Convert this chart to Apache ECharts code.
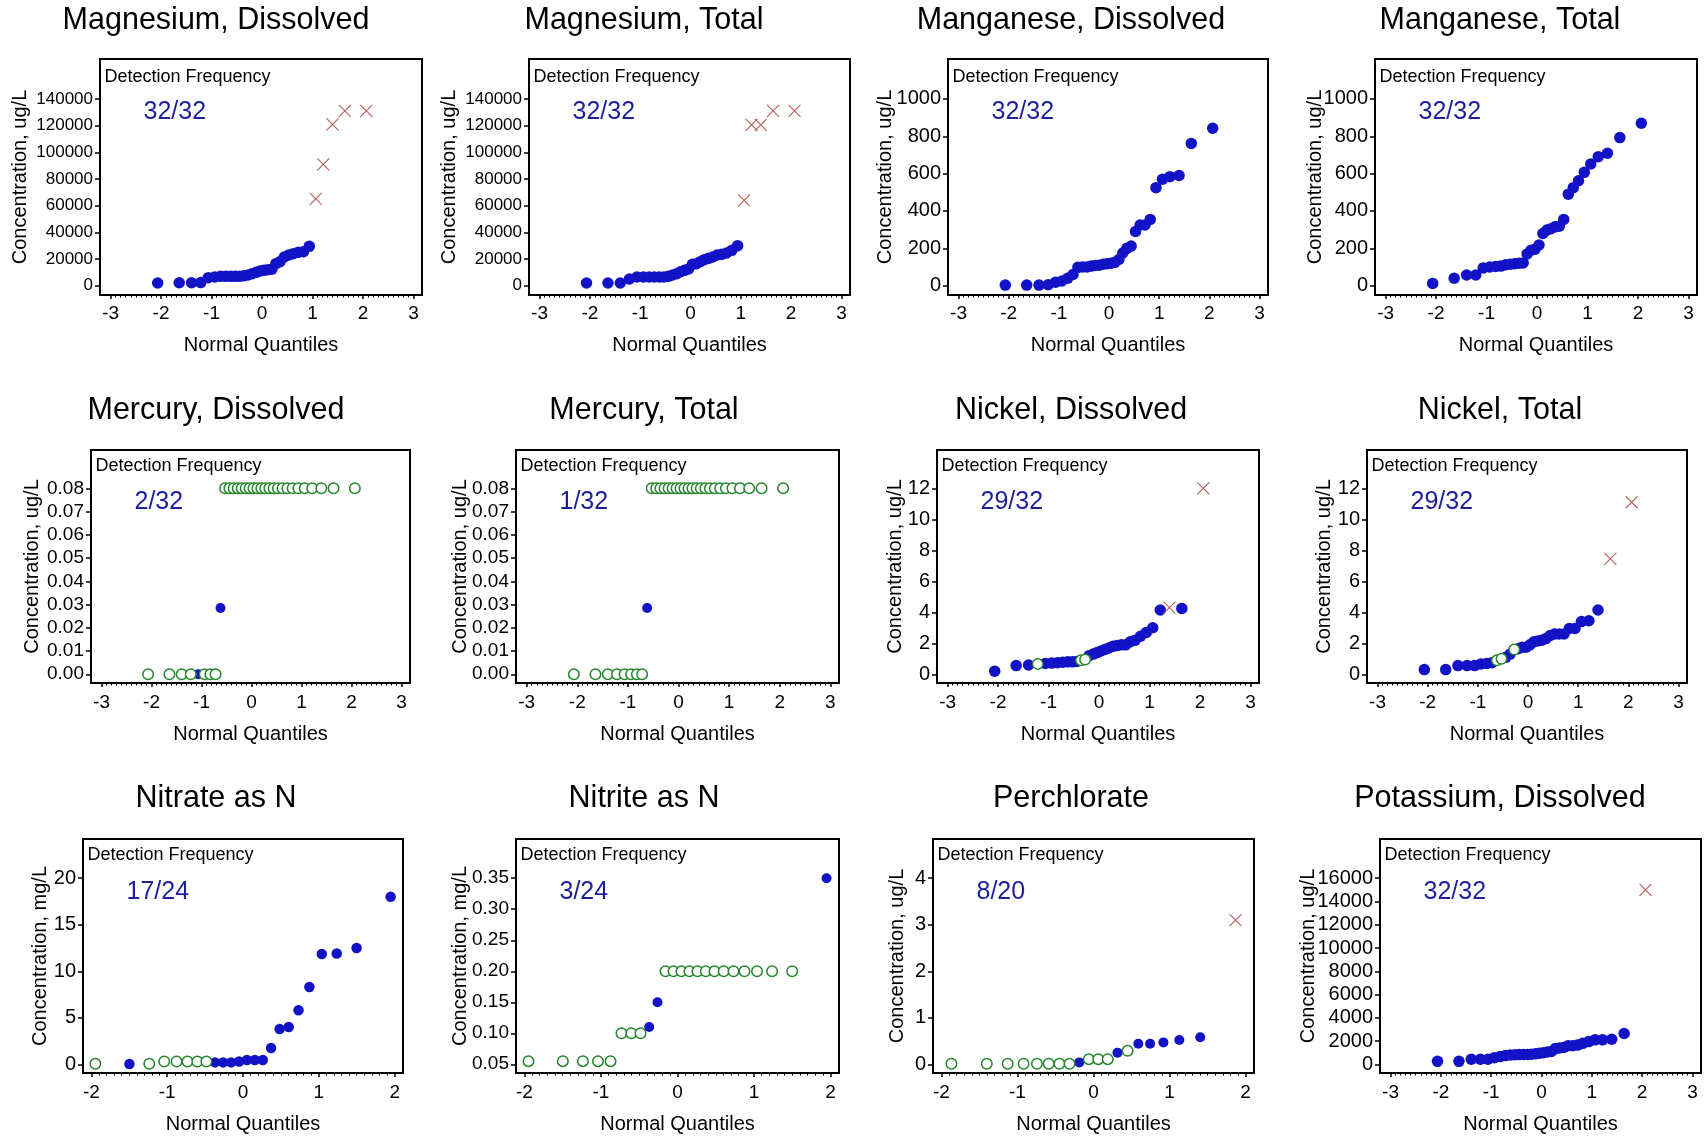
<!DOCTYPE html>
<html>
<head>
<meta charset="utf-8">
<script src="https://cdn.jsdelivr.net/npm/echarts@6/dist/echarts.min.js"></script>
<style>
html,body{margin:0;padding:0;background:#fff;}
#chart{width:1707px;height:1136px;}
</style>
</head>
<body>
<div id="chart"></div>
<script>
// ---- Normal quantile positions for sample sizes 32, 24 and 20 ----
const Q32 = [-2.067,-1.641,-1.396,-1.214,-1.065,-0.937,-0.822,-0.718,-0.620,-0.529,-0.441,-0.357,-0.275,-0.196,-0.117,-0.039,
              0.039,0.117,0.196,0.275,0.357,0.441,0.529,0.620,0.718,0.822,0.937,1.065,1.214,1.396,1.641,2.067];
const Q24 = [-1.947,-1.498,-1.236,-1.039,-0.875,-0.732,-0.603,-0.483,-0.370,-0.261,-0.156,-0.052,
              0.052,0.156,0.261,0.370,0.483,0.603,0.732,0.875,1.039,1.236,1.498,1.947];
const Q20 = [-1.868,-1.403,-1.128,-0.919,-0.744,-0.589,-0.448,-0.315,-0.187,-0.062,
              0.062,0.187,0.315,0.448,0.589,0.744,0.919,1.128,1.403,1.868];

// ---- Sorted concentrations; flags: D = detected, N = non-detect, X = flagged result ----
const mgDissolved = [2000,2200,2200,2300,6000,6500,7000,7000,7000,7000,7000,7500,8000,9000,10000,11000,
                     11500,12000,12300,16500,18000,21500,23000,24000,25000,25500,29500,65000,91000,121000,131000,131000];
const mgDissolvedFlags = 'DDDDDDDDDD' + 'DDDDDDDDDD' + 'DDDDDDD' + 'XXXXX';

const mgTotal = [2000,2000,2000,5000,6500,6500,6500,6500,6500,6500,7000,8000,9000,10500,11500,12500,
                 16000,16500,18000,19500,20500,21500,23000,23500,24500,26500,30000,64000,120500,120500,131000,131000];
const mgTotalFlags = 'DDDDDDDDDD' + 'DDDDDDDDDD' + 'DDDDDDD' + 'XXXXX';

const mnDissolved = [3,3,3,5,18,25,40,60,98,100,100,105,108,110,115,118,
                     120,125,140,175,200,212,290,325,325,355,525,570,584,590,762,843];
const mnDissolvedFlags = 'DDDDDDDDDD' + 'DDDDDDDDDD' + 'DDDDDDDDDD' + 'DD';

const mnTotal = [12,40,57,57,95,100,103,105,112,115,118,120,122,170,190,195,
                 218,280,298,305,315,318,355,490,525,562,607,652,691,709,793,870];
const mnTotalFlags = 'DDDDDDDDDD' + 'DDDDDDDDDD' + 'DDDDDDDDDD' + 'DD';

const hgDissolved = [0,0,0,0,0,0,0,0,0.0285,0.08,0.08,0.08,0.08,0.08,0.08,0.08,
                     0.08,0.08,0.08,0.08,0.08,0.08,0.08,0.08,0.08,0.08,0.08,0.08,0.08,0.08,0.08,0.08];
const hgDissolvedFlags = 'NNNNDNNND' + 'NNNNNNNNNN' + 'NNNNNNNNNN' + 'NNN';

const hgTotal = [0,0,0,0,0,0,0,0,0.0285,0.08,0.08,0.08,0.08,0.08,0.08,0.08,
                 0.08,0.08,0.08,0.08,0.08,0.08,0.08,0.08,0.08,0.08,0.08,0.08,0.08,0.08,0.08,0.08];
const hgTotalFlags = 'NNNNNNNND' + 'NNNNNNNNNN' + 'NNNNNNNNNN' + 'NNN';

const niDissolved = [0.2,0.56,0.6,0.67,0.7,0.72,0.75,0.78,0.8,0.8,0.82,0.9,0.95,1.2,1.3,1.4,
                     1.5,1.6,1.7,1.8,1.85,1.9,1.9,2.1,2.2,2.45,2.7,3.0,4.15,4.3,4.25,12.0];
const niDissolvedFlags = 'DDD' + 'N' + 'DDDDDDD' + 'NN' + 'DDDDDDDDDDDDDDDD' + 'X' + 'D' + 'X';

const niTotal = [0.3,0.3,0.56,0.56,0.56,0.67,0.7,0.75,0.9,1.0,1.1,1.3,1.6,1.65,1.75,1.75,
                 1.9,2.1,2.15,2.2,2.3,2.5,2.6,2.6,2.6,2.95,2.95,3.4,3.45,4.15,7.45,11.1];
const niTotalFlags = 'DDDDDDDD' + 'NN' + 'DD' + 'N' + 'DDDDDDDDDDDDDDDDD' + 'XX';

const nitrate = [0.05,0.02,0.05,0.3,0.3,0.3,0.3,0.3,0.2,0.2,0.2,0.3,
                 0.45,0.45,0.45,1.75,3.8,4.0,5.8,8.3,11.85,11.9,12.5,18.0];
const nitrateFlags = 'NDNNNNNN' + 'DDDDDDDDDDDDDDDD';

const nitrite = [0.055,0.055,0.055,0.055,0.055,0.10,0.10,0.10,0.11,0.15,0.20,0.20,
                 0.20,0.20,0.20,0.20,0.20,0.20,0.20,0.20,0.20,0.20,0.20,0.35];
const nitriteFlags = 'NNNNNNNN' + 'DD' + 'NNNNNNNNNNNNN' + 'D';

const perchlorate = [0.01,0.01,0.01,0.01,0.01,0.01,0.01,0.01,0.04,0.11,
                     0.11,0.11,0.25,0.29,0.44,0.44,0.47,0.52,0.58,3.1];
const perchlorateFlags = 'NNNNNNNN' + 'D' + 'NNN' + 'D' + 'N' + 'DDDDD' + 'X';

const potassium = [250,250,430,430,430,570,660,745,800,820,830,840,850,860,900,950,
                   1000,1050,1100,1350,1400,1450,1600,1600,1650,1800,1950,2100,2100,2150,2650,15000];
const potassiumFlags = 'DDDDDDDDDD' + 'DDDDDDDDDD' + 'DDDDDDDDDD' + 'D' + 'X';

// ---- Tick labels ----
const xTicks3 = [-3,-2,-1,0,1,2,3];
const xTicks2 = [-2,-1,0,1,2];
const yTicksMg = [0,20000,40000,60000,80000,100000,120000,140000];
const yTicksMn = [0,200,400,600,800,1000];
const yTicksHg = [0,0.01,0.02,0.03,0.04,0.05,0.06,0.07,0.08];
const yTicksNi = [0,2,4,6,8,10,12];
const yTicksNitrate = [0,5,10,15,20];
const yTicksNitrite = [0.05,0.10,0.15,0.20,0.25,0.30,0.35];
const yTicksPerchlorate = [0,1,2,3,4];
const yTicksK = [0,2000,4000,6000,8000,10000,12000,14000,16000];

const UG = 'Concentration, ug/L', MG = 'Concentration, mg/L';
const panels = [
  {title:'Magnesium, Dissolved', freq:'32/32', yName:UG, q:Q32, v:mgDissolved, f:mgDissolvedFlags, xt:xTicks3, yt:yTicksMg, dec:0},
  {title:'Magnesium, Total',     freq:'32/32', yName:UG, q:Q32, v:mgTotal,     f:mgTotalFlags,     xt:xTicks3, yt:yTicksMg, dec:0},
  {title:'Manganese, Dissolved', freq:'32/32', yName:UG, q:Q32, v:mnDissolved, f:mnDissolvedFlags, xt:xTicks3, yt:yTicksMn, dec:0},
  {title:'Manganese, Total',     freq:'32/32', yName:UG, q:Q32, v:mnTotal,     f:mnTotalFlags,     xt:xTicks3, yt:yTicksMn, dec:0},
  {title:'Mercury, Dissolved',   freq:'2/32',  yName:UG, q:Q32, v:hgDissolved, f:hgDissolvedFlags, xt:xTicks3, yt:yTicksHg, dec:2},
  {title:'Mercury, Total',       freq:'1/32',  yName:UG, q:Q32, v:hgTotal,     f:hgTotalFlags,     xt:xTicks3, yt:yTicksHg, dec:2},
  {title:'Nickel, Dissolved',    freq:'29/32', yName:UG, q:Q32, v:niDissolved, f:niDissolvedFlags, xt:xTicks3, yt:yTicksNi, dec:0},
  {title:'Nickel, Total',        freq:'29/32', yName:UG, q:Q32, v:niTotal,     f:niTotalFlags,     xt:xTicks3, yt:yTicksNi, dec:0},
  {title:'Nitrate as N',         freq:'17/24', yName:MG, q:Q24, v:nitrate,     f:nitrateFlags,     xt:xTicks2, yt:yTicksNitrate, dec:0},
  {title:'Nitrite as N',         freq:'3/24',  yName:MG, q:Q24, v:nitrite,     f:nitriteFlags,     xt:xTicks2, yt:yTicksNitrite, dec:2},
  {title:'Perchlorate',          freq:'8/20',  yName:UG, q:Q20, v:perchlorate, f:perchlorateFlags, xt:xTicks2, yt:yTicksPerchlorate, dec:0},
  {title:'Potassium, Dissolved', freq:'32/32', yName:UG, q:Q32, v:potassium,   f:potassiumFlags,   xt:xTicks3, yt:yTicksK, dec:0}
];

// ---- Layout: plot frames [left, top, right, bottom] in px ----
const boxes = [
  [100,59,422,295],[529,59,850,295],[948,59,1268,295],[1375,59,1697,295],
  [91,450,410,683],[516,450,839,683],[937,450,1259,683],[1367,450,1687,683],
  [83,839,403,1073],[516,839,839,1073],[933,839,1254,1073],[1380,839,1701,1073]
];
const titleX     = [216,644,1071,1500];
const yNameGap   = [70,70,53,50,49,46,32,33,33,46,26,62];
const yLabelSize = [17,17,20,20,19,19,20,20,20,19,20,20];
const dotSize    = [11.5,11.5,11.5,11.5,10,10,11.5,11.5,10.5,10,10,11.5];
const rows = [
  {titleY:21,    detY:77,    freqY:112,   xNameGap:40, xLabelMargin:9,  padLo:0.050, padHi:0.214},
  {titleY:410.3, detY:466,   freqY:501.7, xNameGap:41, xLabelMargin:10, padLo:0.047, padHi:0.206},
  {titleY:798.3, detY:855.5, freqY:891.7, xNameGap:41, xLabelMargin:10, padLo:0.047, padHi:0.211}
];
const FONT = '"Liberation Sans", Arial, Helvetica, sans-serif';
const BLUE = '#1212c6', GREEN = '#23862a', RED = '#b5605c', NAVY = '#1e1e9e';

function minorTicks(lo, hi) {
  const out = [];
  for (let k = Math.round(lo * 10); k <= Math.round(hi * 10); k++) if (k % 10 !== 0) out.push(k / 10);
  return out;
}

const grids = [], xAxes = [], yAxes = [], series = [], graphics = [];

panels.forEach((p, i) => {
  const [L, T, R, B] = boxes[i];
  const row = rows[Math.floor(i / 4)];
  const col = i % 4;
  const yt = p.yt, span = yt[yt.length - 1] - yt[0];
  const yMin = yt[0] - row.padLo * span, yMax = yt[yt.length - 1] + row.padHi * span;
  const xr = p.xt.length === 7 ? [-3.21, 3.17] : [-2.11, 2.11];
  const gi = 2 * i, go = 2 * i + 1;

  // main frame and an overlay frame carrying the minor x ticks
  grids.push({left:L, top:T, width:R-L, height:B-T, show:true, borderColor:'#000', borderWidth:2,
              backgroundColor:'rgba(0,0,0,0)', containLabel:false, outerBoundsMode:'none'});
  grids.push({left:L, top:T, width:R-L, height:B-T, show:false, containLabel:false, outerBoundsMode:'none'});

  xAxes.push({
    gridIndex:gi, type:'value', min:xr[0], max:xr[1], position:'bottom',
    axisLine:{show:false, onZero:false},
    splitLine:{show:false},
    axisTick:{show:true, customValues:p.xt, length:4, lineStyle:{color:'#000', width:1.5}},
    axisLabel:{customValues:p.xt, fontSize:19, fontFamily:FONT, color:'#000', margin:row.xLabelMargin},
    name:'Normal Quantiles', nameLocation:'middle', nameGap:row.xNameGap, nameMoveOverlap:false,
    nameTextStyle:{fontSize:20, fontFamily:FONT, color:'#000'}
  });
  xAxes.push({
    gridIndex:go, type:'value', min:xr[0], max:xr[1], position:'bottom',
    axisLine:{show:false, onZero:false}, splitLine:{show:false}, axisLabel:{show:false},
    axisTick:{show:true, customValues:minorTicks(p.xt[0], p.xt[p.xt.length-1]), length:2.5, lineStyle:{color:'#000', width:1}}
  });

  yAxes.push({
    gridIndex:gi, type:'value', min:yMin, max:yMax, position:'left',
    axisLine:{show:false, onZero:false},
    splitLine:{show:false},
    axisTick:{show:true, customValues:yt, length:5, lineStyle:{color:'#000', width:1.5}},
    axisLabel:{customValues:yt, fontSize:yLabelSize[i], fontFamily:FONT, color:'#000', margin:7,
               formatter:(v) => p.dec ? Number(v).toFixed(p.dec) : String(Math.round(v))},
    name:p.yName, nameLocation:'middle', nameGap:yNameGap[i], nameMoveOverlap:false,
    nameTextStyle:{fontSize:20, fontFamily:FONT, color:'#000'}
  });
  yAxes.push({gridIndex:go, type:'value', min:0, max:1, show:false});

  const pts = {D:[], N:[], X:[]};
  p.v.forEach((val, k) => pts[p.f[k]].push([p.q[k], val]));
  const base = {type:'scatter', xAxisIndex:gi, yAxisIndex:gi, silent:true, animation:false, emphasis:{disabled:true}};
  series.push(Object.assign({}, base, {
    data:pts.D, symbol:'circle', symbolSize:dotSize[i],
    itemStyle:{color:BLUE, opacity:1}, z:2
  }));
  series.push(Object.assign({}, base, {
    data:pts.N, symbol:'circle', symbolSize:10.5,
    itemStyle:{color:'#ffffff', borderColor:GREEN, borderWidth:1.5, opacity:1}, z:3
  }));
  series.push(Object.assign({}, base, {
    data:pts.X, symbol:'path://M0,0L10,10M10,0L0,10', symbolSize:12,
    itemStyle:{color:'none', borderColor:RED, borderWidth:1.1, opacity:1}, z:4
  }));

  graphics.push({type:'text', x:titleX[col], y:row.titleY, silent:true,
    style:{text:p.title, font:'30.5px ' + FONT, fill:'#000', textAlign:'center', textVerticalAlign:'middle'}});
  graphics.push({type:'text', x:L + 4.5, y:row.detY, silent:true,
    style:{text:'Detection Frequency', font:'18px ' + FONT, fill:'#000', textAlign:'left', textVerticalAlign:'middle'}});
  graphics.push({type:'text', x:L + 43.5, y:row.freqY, silent:true,
    style:{text:p.freq, font:'25px ' + FONT, fill:NAVY, textAlign:'left', textVerticalAlign:'middle'}});
});

const chart = echarts.init(document.getElementById('chart'), null, {renderer:'canvas', devicePixelRatio:1});
chart.setOption({
  backgroundColor:'#ffffff',
  animation:false,
  textStyle:{fontFamily:FONT},
  grid:grids, xAxis:xAxes, yAxis:yAxes, series:series,
  graphic:{elements:graphics}
});
</script>
</body>
</html>
